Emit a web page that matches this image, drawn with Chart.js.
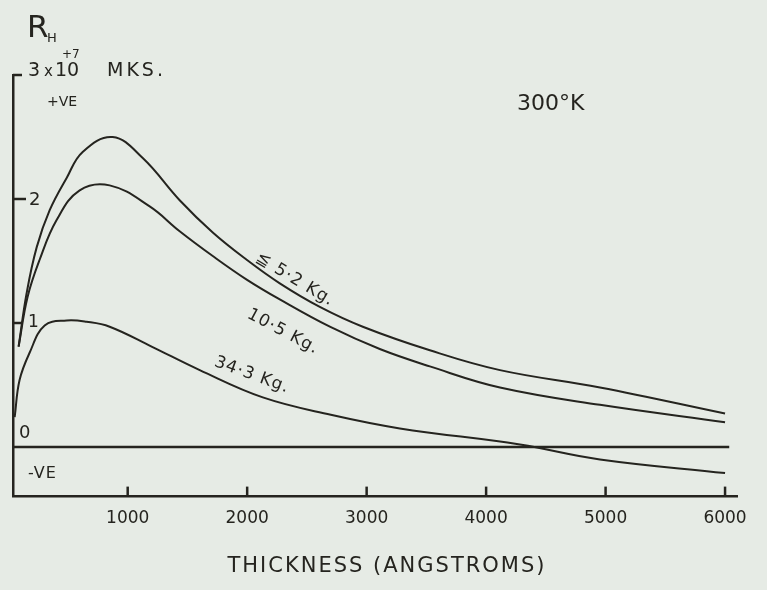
<!DOCTYPE html>
<html>
<head>
<meta charset="utf-8">
<script src="https://cdn.jsdelivr.net/npm/chart.js@4.4.1/dist/chart.umd.min.js"></script>
<style>
  html, body { margin: 0; padding: 0; background: #e6ebe5; }
  #caja { width: 767px; height: 590px; position: relative; }
</style>
</head>
<body>
<div id="caja"><canvas id="graficaHall"></canvas></div>
<script>
// Coeficiente de Hall R_H (x10^7 MKS) frente al espesor (Angstroms), 300°K

// curva <= 5.2 Kg
const espesor52 = [87, 154, 238, 347, 489, 623, 874, 1126, 1435, 1712, 1996, 2273, 2608, 2968, 3529, 4116, 4953, 6000];
const rh52      = [0.81, 1.24, 1.61, 1.91, 2.17, 2.38, 2.50, 2.33, 1.99, 1.73, 1.51, 1.32, 1.13, 0.97, 0.78, 0.62, 0.48, 0.27];

// curva 10.5 Kg
const espesor105 = [87, 162, 263, 405, 598, 849, 1184, 1435, 1712, 1996, 2273, 2692, 3110, 3529, 4116, 4953, 6000];
const rh105      = [0.81, 1.21, 1.51, 1.83, 2.07, 2.11, 1.94, 1.74, 1.54, 1.35, 1.19, 0.97, 0.79, 0.65, 0.48, 0.34, 0.20];

// curva 34.3 Kg
const espesor343 = [54, 95, 179, 305, 489, 657, 849, 1200, 1603, 2131, 2700, 3278, 4283, 4953, 6000];
const rh343      = [0.24, 0.54, 0.76, 0.98, 1.02, 1.01, 0.97, 0.81, 0.62, 0.40, 0.26, 0.15, 0.02, -0.10, -0.21];

// linea de cero
const espesorCero = [40, 6035];
const rhCero      = [0, 0];

const xTicks = [1000, 2000, 3000, 4000, 5000, 6000];
const yTicks = [0, 1, 2, 3];

const tinta = '#25241f';
const fuente = '"DejaVu Sans", sans-serif';

function puntos(xs, ys) {
    return xs.map((v, i) => ({ x: v, y: ys[i] }));
}

function linea(ctx, x1, y1, x2, y2) {
    ctx.beginPath();
    ctx.moveTo(x1, y1);
    ctx.lineTo(x2, y2);
    ctx.stroke();
}

function texto(ctx, str, px, py, size, align, espaciado) {
    ctx.font = size + 'px ' + fuente;
    ctx.textAlign = align || 'left';
    ctx.textBaseline = 'middle';
    if ('letterSpacing' in ctx) ctx.letterSpacing = (espaciado || 0) + 'px';
    ctx.fillText(str, px, py);
}

function textoGirado(ctx, str, px, py, grados, size) {
    ctx.save();
    ctx.translate(px, py);
    ctx.rotate(grados * Math.PI / 180);
    texto(ctx, str, 0, 0, size, 'center', 1);
    ctx.restore();
}

// Dibuja marcas, etiquetas y textos a mano alzada
const anotaciones = {
    id: 'anotaciones',
    afterDraw(chart) {
        const ctx = chart.ctx;
        const sx = chart.scales.x;
        const sy = chart.scales.y;
        const area = chart.chartArea;
        ctx.save();
        ctx.strokeStyle = tinta;
        ctx.fillStyle = tinta;
        ctx.lineWidth = 2.5;

        // marcas del eje x hacia dentro
        xTicks.forEach(v => {
            const px = sx.getPixelForValue(v);
            linea(ctx, px, area.bottom, px, area.bottom - 10);
        });

        // marcas del eje y
        linea(ctx, area.left, sy.getPixelForValue(3), area.left + 9, sy.getPixelForValue(3));
        linea(ctx, area.left, sy.getPixelForValue(2), area.left + 13, sy.getPixelForValue(2));
        linea(ctx, area.left, sy.getPixelForValue(1), area.left + 9, sy.getPixelForValue(1));

        // etiquetas del eje y
        texto(ctx, '2', area.left + 16, sy.getPixelForValue(2) + 1, 18);
        texto(ctx, '1', area.left + 15, sy.getPixelForValue(1), 17);
        texto(ctx, '0', area.left + 6, sy.getPixelForValue(0) - 14, 18);

        // unidades
        const y3 = sy.getPixelForValue(3);
        texto(ctx, '3', area.left + 15, y3 - 4, 19);
        texto(ctx, 'x', area.left + 31, y3 - 3, 15);
        texto(ctx, '10', area.left + 42, y3 - 4, 19);
        texto(ctx, '+7', area.left + 49, y3 - 20, 12);
        texto(ctx, 'MKS.', area.left + 94, y3 - 4, 19, 'left', 3);

        // R_H
        texto(ctx, 'R', area.left + 14, area.top - 46, 31);
        texto(ctx, 'H', area.left + 34, area.top - 36, 13, 'left', 1);

        // +VE / -VE
        texto(ctx, '+VE', area.left + 34, sy.getPixelForValue(3) + 27, 14);
        texto(ctx, '-VE', area.left + 15, sy.getPixelForValue(0) + 27, 16, 'left', 1);

        // temperatura
        texto(ctx, '300°K', sx.getPixelForValue(4540), sy.getPixelForValue(2.76), 22, 'center');

        // etiquetas de las curvas
        textoGirado(ctx, '≦ 5·2 Kg.', sx.getPixelForValue(2400), sy.getPixelForValue(1.35), 31, 17);
        textoGirado(ctx, '10·5 Kg.', sx.getPixelForValue(2300), sy.getPixelForValue(0.93), 28, 17);
        textoGirado(ctx, '34·3 Kg.', sx.getPixelForValue(2040), sy.getPixelForValue(0.58), 20, 17);

        // titulo del eje x
        texto(ctx, 'THICKNESS (ANGSTROMS)', 387, area.bottom + 70, 21, 'center', 2);

        ctx.restore();
    }
};

const serie = (xs, ys) => ({
    data: puntos(xs, ys),
    borderColor: tinta,
    borderWidth: 2,
    pointRadius: 0,
    fill: false,
    tension: 0.4
});

new Chart(document.getElementById('graficaHall'), {
    type: 'line',
    data: {
        datasets: [
            serie(espesor52, rh52),
            serie(espesor105, rh105),
            serie(espesor343, rh343),
            Object.assign(serie(espesorCero, rhCero), { borderWidth: 2.5, tension: 0 })
        ]
    },
    options: {
        responsive: true,
        maintainAspectRatio: false,
        animation: false,
        layout: { padding: { top: 75, left: 13, right: 30, bottom: 49 } },
        plugins: {
            legend: { display: false },
            tooltip: { enabled: false }
        },
        scales: {
            x: {
                type: 'linear',
                min: 40,
                max: 6100,
                afterBuildTicks: scale => { scale.ticks = xTicks.map(v => ({ value: v })); },
                grid: { display: false, drawTicks: false },
                border: { display: true, color: tinta, width: 2.5 },
                ticks: {
                    color: tinta,
                    padding: 12,
                    maxRotation: 0,
                    font: { family: fuente, size: 17 },
                    callback: v => String(v)
                }
            },
            y: {
                type: 'linear',
                min: -0.40,
                max: 3,
                afterBuildTicks: scale => { scale.ticks = yTicks.map(v => ({ value: v })); },
                grid: { display: false, drawTicks: false },
                border: { display: true, color: tinta, width: 2.5 },
                ticks: { display: false }
            }
        }
    },
    plugins: [anotaciones]
});
</script>
</body>
</html>
